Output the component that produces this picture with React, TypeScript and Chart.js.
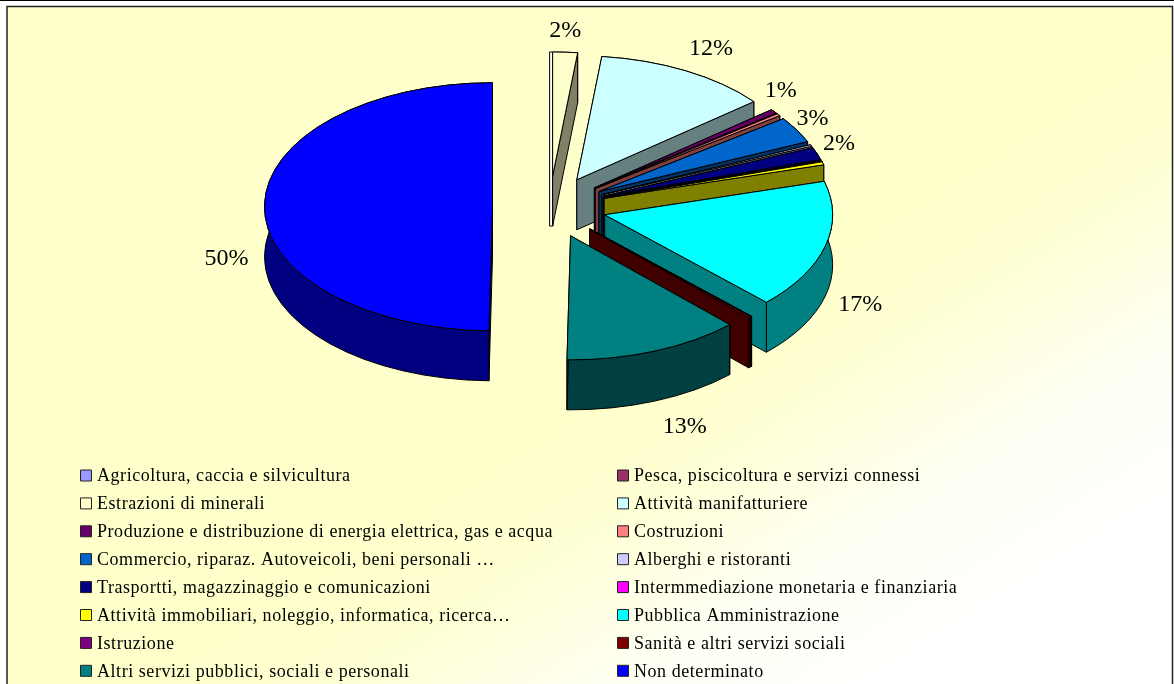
import React, { useEffect, useRef } from "react";
import { Chart, registerables } from "chart.js";

Chart.register(...registerables);

const categories = [
  "Agricoltura, caccia e silvicultura",
  "Pesca, piscicoltura e servizi connessi",
  "Estrazioni di minerali",
  "Attività manifatturiere",
  "Produzione e distribuzione di energia elettrica, gas e acqua",
  "Costruzioni",
  "Commercio, riparaz. Autoveicoli, beni personali …",
  "Alberghi e ristoranti",
  "Trasportti, magazzinaggio e comunicazioni",
  "Intermmediazione monetaria e finanziaria",
  "Attività immobiliari, noleggio, informatica, ricerca…",
  "Pubblica Amministrazione",
  "Istruzione",
  "Sanità e altri servizi sociali",
  "Altri servizi pubblici, sociali e personali",
  "Non determinato",
];

const shares = [0, 0, 1.75, 12.4, 0.55, 0.3, 3.4, 0.2, 1.6, 0.05, 0.4, 16.8, 0.05, 0.2, 12.55, 49.75];

const topColors = [
  "#9999FF", "#993366", "#FFFFCC", "#CCFFFF", "#660066", "#FF8080", "#0066CC", "#CCCCFF",
  "#000080", "#FF00FF", "#FFFF00", "#00FFFF", "#800080", "#800000", "#008080", "#0000FF",
];

const wallColors = [
  "#4D4D80", "#4D1A33", "#808066", "#668080", "#330033", "#804040", "#003366", "#666680",
  "#000040", "#800080", "#808000", "#008080", "#400040", "#400000", "#004040", "#000080",
];

// label placement relative to the rim point of each labelled slice
const labelNudges: Record<number, [number, number]> = {
  2: [0, -21],
  3: [25, -22],
  4: [7, -21],
  6: [16, -11],
  8: [22, -10],
  11: [35, 59],
  14: [30, 76],
  15: [-38, 53],
};

const RADIUS = 228;
const SQUASH = 0.544;
const DEPTH = 50;
const EXPLODE = 57;

const deepPie = {
  id: "deepPie",
  beforeDraw(chart: any) {
    const { ctx, width, height } = chart;
    ctx.save();
    ctx.fillStyle = "#FFFFFF";
    ctx.fillRect(0, 0, width, height);
    const g = ctx.createLinearGradient(351, 562, 562, 899);
    g.addColorStop(0, "#FFFFCC");
    g.addColorStop(0.2, "#FFFFD2");
    g.addColorStop(0.35, "#FFFFDD");
    g.addColorStop(0.62, "#FFFFF4");
    g.addColorStop(1, "#FFFFFF");
    ctx.fillStyle = g;
    ctx.fillRect(7, 7, 1165, height);
    ctx.strokeStyle = "#222222";
    ctx.lineWidth = 1.5;
    ctx.beginPath();
    ctx.moveTo(7, height + 2);
    ctx.lineTo(7, 6.5);
    ctx.lineTo(1172.5, 6.5);
    ctx.lineTo(1172.5, height + 2);
    ctx.stroke();
    ctx.fillStyle = "#000000";
    ctx.fillRect(0, 0, width, 1);
    ctx.restore();
  },
  beforeDatasetDraw(chart: any) {
    const { ctx } = chart;
    const arcs = chart.getDatasetMeta(0).data;
    const order = [15, ...arcs.map((_: any, i: number) => i).slice(0, 15)];
    order.forEach((i: number) => {
      const arc = arcs[i];
      if (!arc.circumference) return;
      const a1 = arc.startAngle;
      const a2 = arc.endAngle;
      const mid = (a1 + a2) / 2;
      const ax = arc.x + Math.cos(mid) * EXPLODE;
      const ay = arc.y + Math.sin(mid) * EXPLODE * SQUASH;
      const rx = RADIUS;
      const ry = RADIUS * SQUASH;
      const px = (a: number) => ax + rx * Math.cos(a);
      const py = (a: number) => ay + ry * Math.sin(a);
      const shape = (build: () => void, fill: string) => {
        ctx.beginPath();
        build();
        ctx.closePath();
        ctx.fillStyle = fill;
        ctx.fill();
        ctx.lineWidth = 1;
        ctx.lineJoin = "round";
        ctx.strokeStyle = "#000000";
        ctx.stroke();
      };
      const radial = (a: number) => () => {
        ctx.moveTo(ax, ay);
        ctx.lineTo(px(a), py(a));
        ctx.lineTo(px(a), py(a) + DEPTH);
        ctx.lineTo(ax, ay + DEPTH);
      };
      const wall = wallColors[i];

      // a wedge that starts straight up shows a sliver of its left edge
      if (Math.abs(a1 + Math.PI / 2) < 1e-6) {
        shape(() => ctx.rect(ax - 3, py(a1), 3, ay + DEPTH - py(a1)), "#FFFFFF");
      }
      shape(radial(a1), wall);
      shape(() => {
        ctx.ellipse(ax, ay, rx, ry, 0, a1, a2);
        ctx.ellipse(ax, ay + DEPTH, rx, ry, 0, a2, a1, true);
      }, wall);
      shape(radial(a2), wall);

      // top face: the library's own arc, pulled out and squashed
      ctx.save();
      ctx.translate(ax, ay);
      ctx.scale(1, SQUASH);
      ctx.translate(-arc.x, -arc.y);
      arc.draw(ctx);
      ctx.restore();

      ctx.beginPath();
      ctx.moveTo(ax, ay);
      ctx.ellipse(ax, ay, rx, ry, 0, a1, a2);
      ctx.closePath();
      ctx.lineWidth = 1;
      ctx.strokeStyle = "#000000";
      ctx.stroke();
    });
    return false;
  },
  afterDatasetsDraw(chart: any) {
    const { ctx } = chart;
    const arcs = chart.getDatasetMeta(0).data;
    const values: number[] = chart.data.datasets[0].data;
    ctx.save();
    ctx.fillStyle = "#000000";
    ctx.textBaseline = "middle";
    ctx.textAlign = "center";
    ctx.font = '24px "Liberation Serif"';
    arcs.forEach((arc: any, i: number) => {
      const nudge = labelNudges[i];
      if (!nudge) return;
      const mid = (arc.startAngle + arc.endAngle) / 2;
      const rimX = arc.x + Math.cos(mid) * (EXPLODE + RADIUS);
      const rimY = arc.y + Math.sin(mid) * (EXPLODE + RADIUS) * SQUASH;
      ctx.fillText(`${Math.round(values[i])}%`, rimX + nudge[0], rimY + nudge[1]);
    });

    ctx.font = '18px "Liberation Serif"';
    ctx.textAlign = "left";
    (ctx as any).letterSpacing = "0.55px";
    chart.data.labels.forEach((label: string, i: number) => {
      const col = i % 2;
      const row = (i - col) / 2;
      const x = col ? 617 : 80;
      const y = 475.5 + row * 27.9;
      ctx.fillStyle = topColors[i];
      ctx.strokeStyle = "#222222";
      ctx.lineWidth = 1;
      ctx.fillRect(x + 0.5, y - 5.5, 11, 11);
      ctx.strokeRect(x + 0.5, y - 5.5, 11, 11);
      ctx.fillStyle = "#000000";
      ctx.fillText(label, x + 17, y + 1);
    });
    ctx.restore();
  },
};

export default function App() {
  const ref = useRef<HTMLCanvasElement>(null);
  useEffect(() => {
    const chart = new Chart(ref.current as HTMLCanvasElement, {
      type: "pie",
      data: {
        labels: categories,
        datasets: [
          {
            data: shares,
            backgroundColor: topColors,
            borderWidth: 0,
            clip: false,
          } as any,
        ],
      },
      options: {
        responsive: false,
        animation: false,
        radius: RADIUS,
        layout: { padding: { right: 75, bottom: 270 } },
        events: [],
        plugins: { legend: { display: false }, tooltip: { enabled: false } },
      } as any,
      plugins: [deepPie],
    });
    return () => chart.destroy();
  }, []);
  return (
    <canvas
      ref={ref}
      width={1174}
      height={684}
      style={{ position: "fixed", left: 0, top: 0, width: 1174, height: 684, display: "block" }}
    />
  );
}
